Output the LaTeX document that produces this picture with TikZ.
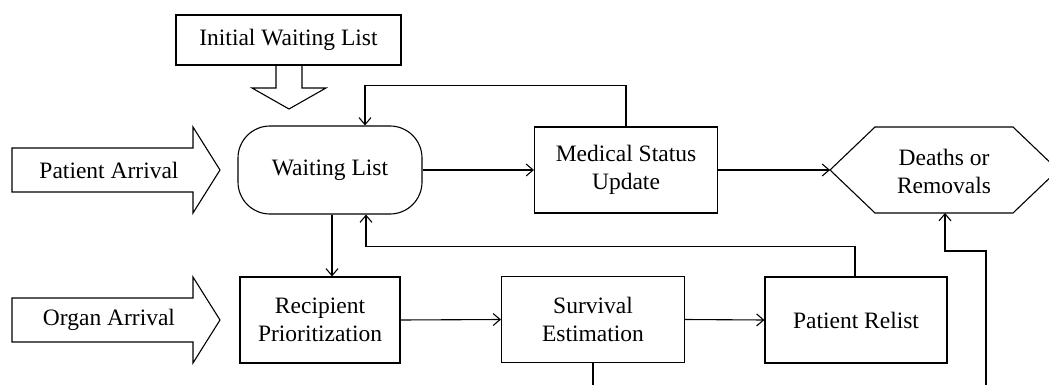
\documentclass[tikz,border=0pt]{standalone}
\usepackage{fontspec}
\setmainfont{Liberation Serif}
\usetikzlibrary{arrows.meta,calc}
\begin{document}
\begin{tikzpicture}[x=1pt,y=-1pt,
  line width=1.1pt,
  every node/.style={font=\fontsize{23.5}{28}\selectfont, align=center, inner sep=0pt},
  box/.style={draw, minimum width=#1, minimum height=86},
  arr/.style={-{Straight Barb[length=7pt,width=12pt,line width=1.1pt]}},
  outline/.style={draw, line join=miter}
]
\useasboundingbox (0,0) rectangle (1049,385);

% Initial waiting list
\node[draw, minimum width=225, minimum height=50] (init) at (288.5,40) {Initial Waiting List};
\draw[outline] (276,65) -- (276,88) -- (252,88) -- (289,109) -- (326,88) -- (302,88) -- (302,65);

% Patient arrival block arrow
\draw[outline] (12,148) -- (193,148) -- (193,127) -- (220,170) -- (193,213) -- (193,192) -- (12,192) -- cycle;
\node (pa) at (109,170) {Patient Arrival};

% Organ arrival block arrow
\draw[outline] (12,298) -- (193,298) -- (193,277) -- (220,320) -- (193,363) -- (193,342) -- (12,342) -- cycle;
\node (oa) at (109,320) {Organ Arrival};

% Waiting list
\node[box=184, minimum height=88, rounded corners=32] (wl) at (330,170) {Waiting List};

% Medical status update
\node[box=183] (msu) at (626,170) {Medical Status\\Update};

% Deaths or removals hexagon
\draw[outline] (830,170) -- (875,127) -- (1013,127) -- (1058,170) -- (1013,213) -- (875,213) -- cycle;
\node (dr) at (944,171) {Deaths or\\Removals};
\coordinate (drW) at (830,170);
\coordinate (drS) at (945,213);

% Lower row
\node[box=160] (rp) at (320,320) {Recipient\\Prioritization};
\node[box=183] (se) at (593,319.5) {Survival\\Estimation};
\node[box=182] (pr) at (856,320) {Patient Relist};

% Connectors
\draw[arr] (wl.east) -- (msu.west);
\draw[arr] (msu.east) -- (drW);
\draw[arr] (msu.north) -- ++(0,-41) -| ($(wl.north)+(35,0)$);
\draw[arr] ($(wl.south)+(2,0)$) -- ($(wl.south |- rp.north)+(2,0)$);
\draw[arr] ($(pr.north)+(-1,0)$) -- ++(0,-30) -| ($(wl.south)+(36,0)$);
\draw[arr] (rp.east) -- (se.west);
\draw[arr] (se.east) -- (pr.west);
\coordinate (seout) at (593,386);
\draw (se.south) -- (seout);
\coordinate (inbot) at (986,386);
\draw[arr] (inbot) -- (986,251) -- (945,251) -- (drS);
\end{tikzpicture}
\end{document}
